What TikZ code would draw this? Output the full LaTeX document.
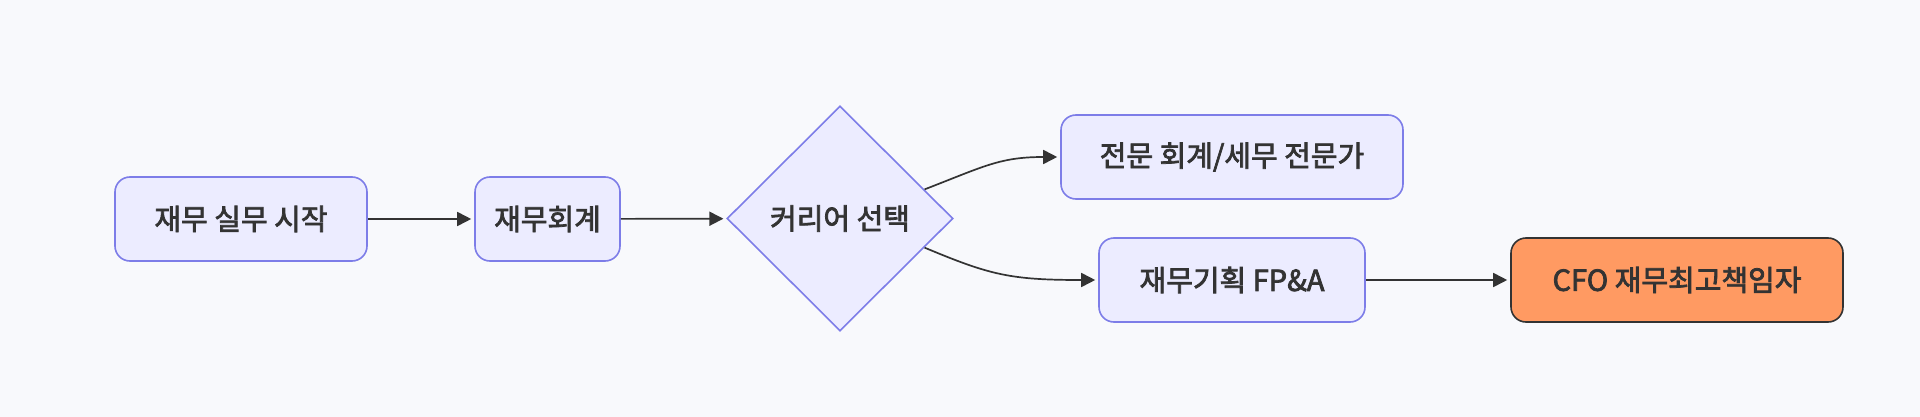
\documentclass[tikz,border=0pt]{standalone}
\usepackage{fontspec}
\setmainfont{Noto Sans CJK KR}
\usetikzlibrary{shapes.geometric,arrows.meta}
\definecolor{bgc}{HTML}{F8F9FC}
\definecolor{nfill}{HTML}{ECECFF}
\definecolor{nline}{HTML}{7D7DE8}
\definecolor{txt}{HTML}{333333}
\definecolor{ofill}{HTML}{FF9A62}
\tikzset{
  labelfont/.style={font=\fontsize{29}{34}\selectfont\addfontfeatures{FakeBold=2.6}},
  box/.style={draw=nline, fill=nfill, line width=1.6pt, rounded corners=15pt,
    minimum height=84pt, inner sep=0pt, text=txt, labelfont},
  hotbox/.style={box, draw=txt, fill=ofill},
  choice/.style={draw=nline, fill=nfill, line width=1.6pt, diamond, aspect=1,
    minimum width=226pt, minimum height=225pt, inner sep=0pt, text=txt, labelfont},
  link/.style={draw=txt, line width=1.7pt, -{Triangle[length=14pt,width=14pt]}, shorten >=3pt}
}
\begin{document}
\begin{tikzpicture}[x=1pt,y=-1pt]
\fill[bgc] (0,0) rectangle (1920,417);
\useasboundingbox (0,0) rectangle (1920,417);
\node[box, minimum width=252pt] (start) at (241,219) {재무 실무 시작};
\node[box, minimum width=145pt] (acc) at (547.5,219) {재무회계};
\node[choice] (dia) at (840,218.5) {커리어 선택};
\node[box, minimum width=342pt] (spec) at (1232,157) {전문 회계/세무 전문가};
\node[box, minimum width=266pt] (fpa) at (1232,280) {재무기획 FP\&A};
\node[hotbox, minimum width=332pt] (cfo) at (1677,280) {CFO 재무최고책임자};
\draw[link] (start) -- (acc);
\draw[link] (acc) -- (dia);
\draw[link] (dia.19.4) .. controls (985,166) and (1000,157) .. (spec.west);
\draw[link] (dia.-19.4) .. controls (990,275) and (1010,280) .. (fpa.west);
\draw[link] (fpa) -- (cfo);
\end{tikzpicture}
\end{document}
